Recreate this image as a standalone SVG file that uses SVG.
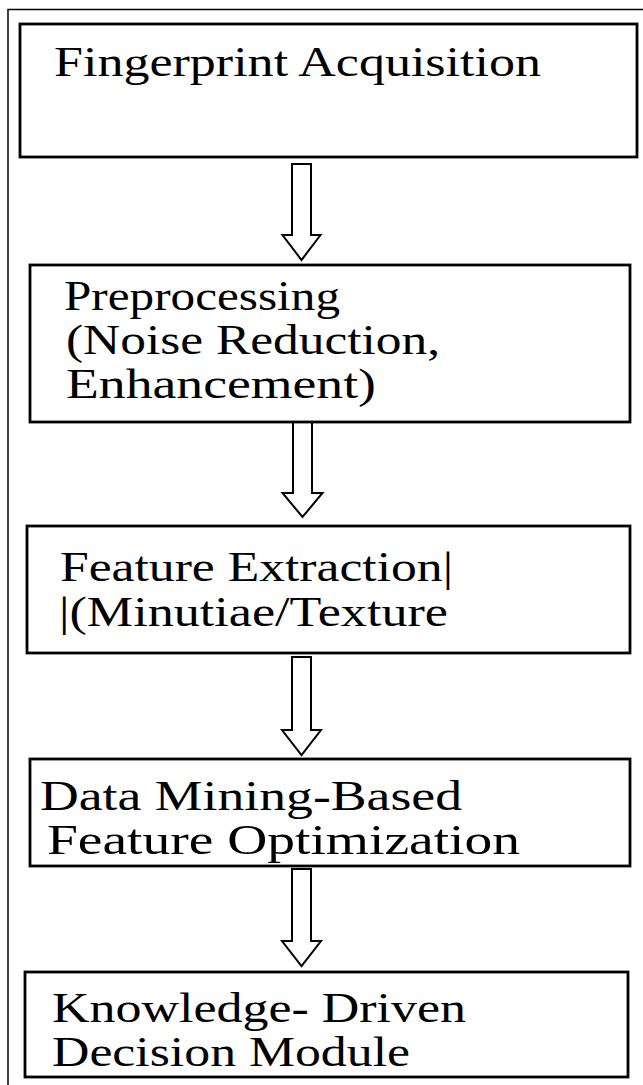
<svg xmlns="http://www.w3.org/2000/svg" width="643" height="1085" viewBox="0 0 643 1085">
<style>
.box{fill:#fff;stroke:#000;stroke-width:2.8}
.arr{fill:#fff;stroke:#000;stroke-width:2}
.frame{fill:none;stroke:#000;stroke-width:1.5}
text{font-family:"Liberation Serif","Times New Roman",serif;font-size:42px;fill:#000}
</style>
<rect width="643" height="1085" fill="#fff"/>
<path class="frame" d="M643,9.5 H8 V1085"/>
<g id="connectors">
<polygon class="arr" points="292,164 311,164 311,235 320.5,235 301.5,260 282.5,235 292,235"/>
<polygon class="arr" points="293,422 312,422 312,493 322.5,493 302.5,517 282.5,493 293,493"/>
<polygon class="arr" points="292,657 311,657 311,730 321,730 301.5,755 282,730 292,730"/>
<polygon class="arr" points="292,869 311,869 311,941 321,941 301.5,966 282,941 292,941"/>
</g>
<g id="n1">
<rect class="box" x="20" y="24" width="617" height="133"/>
<text x="54" y="76" textLength="487" lengthAdjust="spacingAndGlyphs">Fingerprint Acquisition</text>
</g>
<g id="n2">
<rect class="box" x="30" y="265" width="600" height="157"/>
<text x="64" y="310" textLength="276" lengthAdjust="spacingAndGlyphs">Preprocessing</text>
<text x="66" y="354" textLength="374" lengthAdjust="spacingAndGlyphs">(Noise Reduction,</text>
<text x="66" y="398" textLength="310" lengthAdjust="spacingAndGlyphs">Enhancement)</text>
</g>
<g id="n3">
<rect class="box" x="27" y="526" width="603" height="127"/>
<text x="60" y="581" textLength="393" lengthAdjust="spacingAndGlyphs">Feature Extraction|</text>
<text x="59" y="626" textLength="389" lengthAdjust="spacingAndGlyphs">|(Minutiae/Texture</text>
</g>
<g id="n4">
<rect class="box" x="30" y="759" width="600" height="107"/>
<text x="40" y="810" textLength="422" lengthAdjust="spacingAndGlyphs">Data Mining-Based</text>
<text x="47" y="854" textLength="473" lengthAdjust="spacingAndGlyphs">Feature Optimization</text>
</g>
<g id="n5">
<rect class="box" x="25" y="972" width="603" height="105"/>
<text x="52" y="1022" textLength="414" lengthAdjust="spacingAndGlyphs">Knowledge- Driven</text>
<text x="52" y="1066" textLength="358" lengthAdjust="spacingAndGlyphs">Decision Module</text>
</g>
</svg>
